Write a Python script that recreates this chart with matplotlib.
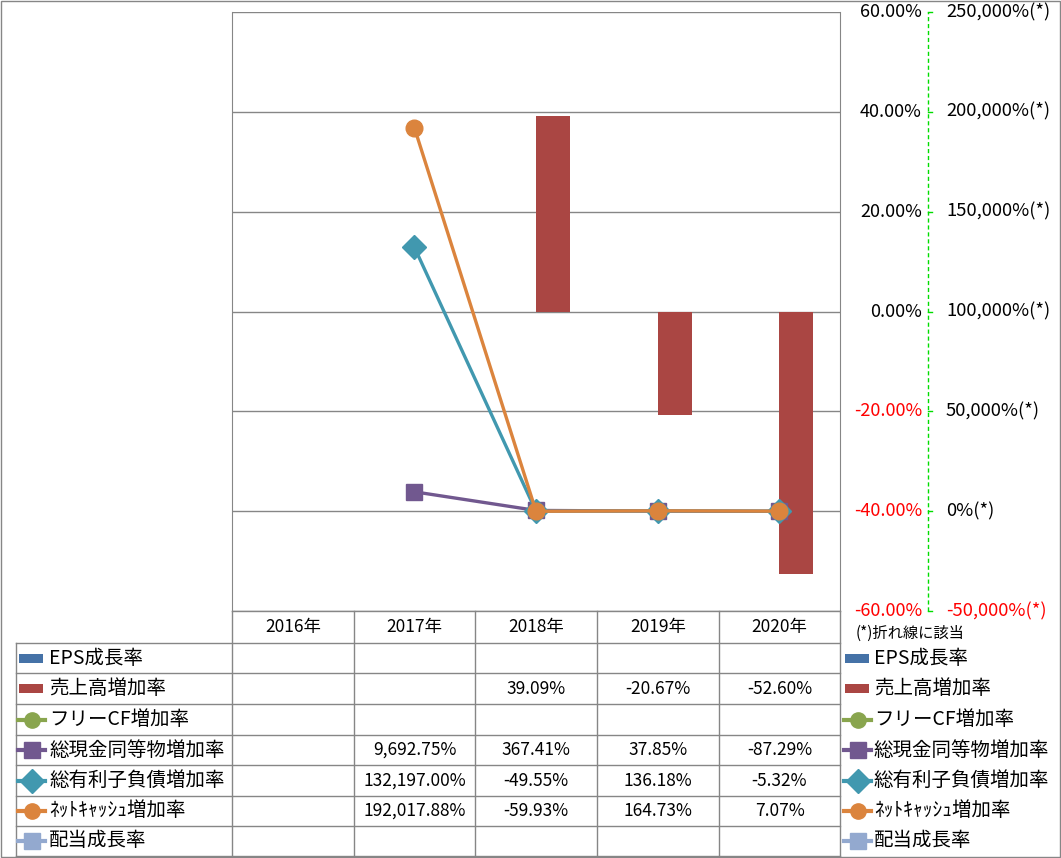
import numpy as np
import matplotlib
matplotlib.use("Agg")
import matplotlib.pyplot as plt
from matplotlib.lines import Line2D
from matplotlib.patches import Rectangle
import matplotlib.transforms as mtrans

plt.rcParams['font.family'] = ['Noto Sans CJK JP', 'DejaVu Sans']

nan = np.nan
years = ['2016年', '2017年', '2018年', '2019年', '2020年']
eps_growth = [nan, nan, nan, nan, nan]
sales_growth = [nan, nan, 39.09, -20.67, -52.60]
fcf_growth = [nan, nan, nan, nan, nan]
cash_growth = [nan, 9692.75, 367.41, 37.85, -87.29]
debt_growth = [nan, 132197.00, -49.55, 136.18, -5.32]
netcash_growth = [nan, 192017.88, -59.93, 164.73, 7.07]
div_growth = [nan, nan, nan, nan, nan]

series_names = ['EPS成長率', '売上高増加率', 'フリーCF増加率', '総現金同等物増加率',
                '総有利子負債増加率', 'ﾈｯﾄｷｬｯｼｭ増加率', '配当成長率']
series_values = [eps_growth, sales_growth, fcf_growth, cash_growth,
                 debt_growth, netcash_growth, div_growth]
series_kind = ['bar', 'bar', 'line', 'line', 'line', 'line', 'line']
series_marker = [None, None, 'o', 's', 'D', 'o', 's']
colors = ['#4572A7', '#AA4643', '#89A54E', '#71588F', '#4198AF', '#DB843D', '#93A9CF']

left_ticks = [60, 40, 20, 0, -20, -40, -60]
right_ticks = [250000, 200000, 150000, 100000, 50000, 0, -50000]

W, H = 1061, 858
fig = plt.figure(figsize=(W / 100, H / 100), dpi=100)

def fx(px):
    return px / W

def fy(py):
    return 1 - py / H

ax_l, ax_r, ax_t, ax_b = 232, 840, 12, 611
ax = fig.add_axes([fx(ax_l), fy(ax_b), (ax_r - ax_l) / W, (ax_b - ax_t) / H])
ax2 = ax.twinx()
ax.set_zorder(1)
ax2.set_zorder(2)
ax.patch.set_alpha(0)
ax2.patch.set_alpha(0)

x = np.arange(len(years))
ax.set_xlim(-0.5, len(years) - 0.5)
ax.set_ylim(-60, 60)
ax2.set_ylim(-50000, 250000)

# gridlines
for t in left_ticks:
    ax.axhline(t, color='#868686', lw=1, zorder=0)

# bars
bw = 0.28
ax.bar(x - bw / 2, eps_growth, width=bw, color=colors[0], zorder=2)
ax.bar(x + bw / 2, sales_growth, width=bw, color=colors[1], zorder=2)

# lines
lw = 2.4
ax2.plot(x, fcf_growth, color=colors[2], lw=lw, marker='o', ms=11)
ax2.plot(x, cash_growth, color=colors[3], lw=lw, marker='s', ms=11, zorder=3)
ax2.plot(x, debt_growth, color=colors[4], lw=lw, marker='D', ms=12, zorder=4)
ax2.plot(x, netcash_growth, color=colors[5], lw=lw, marker='o', ms=12, zorder=5)
ax2.plot(x, div_growth, color=colors[6], lw=lw, marker='s', ms=11)

for a in (ax, ax2):
    a.set_xticks([])
    a.set_yticks([])
    for s in a.spines.values():
        s.set_visible(False)
ax.spines['left'].set_visible(True)
ax.spines['left'].set_color('#868686')
ax.spines['right'].set_visible(True)
ax.spines['right'].set_color('#868686')

fs = 12.5

# left-axis tick labels (drawn on the right side)
tr1 = mtrans.blended_transform_factory(fig.transFigure, ax.transData)
for t in left_ticks:
    ax.text(fx(922), t, f"{t:.2f}%", transform=tr1, ha='right', va='center',
            fontsize=13, color='red' if t < 0 else 'black', clip_on=False)

# secondary-axis: green dashed line with ticks and labels
tr2 = mtrans.blended_transform_factory(fig.transFigure, ax2.transData)
ax2.add_line(Line2D([fx(928), fx(928)], [right_ticks[-1], right_ticks[0]], transform=tr2,
                    color='#00dd00', lw=1, ls=(0, (3, 2)), clip_on=False))
for t in right_ticks:
    ax2.add_line(Line2D([fx(928), fx(932)], [t, t], transform=tr2, color='#00dd00', lw=1,
                        clip_on=False))
    ax2.text(fx(946), t, f"{t:,}%(*)", transform=tr2, ha='left', va='center',
             fontsize=13.3, color='red' if t < 0 else 'black', clip_on=False)

# overlay in pixel coordinates for table and legends
ov = fig.add_axes([0, 0, 1, 1], zorder=0)
ov.set_xlim(0, W)
ov.set_ylim(H, 0)
ov.axis('off')
ov.patch.set_alpha(0)

gcol = '#868686'
# outer border
ov.add_patch(Rectangle((0.5, 0.5), W - 1.5, H - 1.5, fill=False, ec=gcol, lw=1))

col_x = [232, 354, 475, 597, 719, 840]
row_y = [611, 643, 673, 704, 735, 765, 796, 826, 856]
ov.plot([232, 840], [611, 611], color=gcol, lw=1)
for cx in col_x:
    ov.plot([cx, cx], [611, 856], color=gcol, lw=1)
for ry in row_y[1:]:
    ov.plot([16, 840], [ry, ry], color=gcol, lw=1)
ov.plot([16, 16], [643, 856], color=gcol, lw=1)

# header labels
for i, yl in enumerate(years):
    ov.text((col_x[i] + col_x[i + 1]) / 2, 627, yl, ha='center', va='center', fontsize=fs)

ov.text(856, 633, '(*)折れ線に該当', ha='left', va='center', fontsize=11)

def draw_key(x0, yc, i):
    if series_kind[i] == 'bar':
        ov.add_patch(Rectangle((x0 + 1, yc - 4.5), 24, 9, color=colors[i], lw=0))
    else:
        ov.plot([x0, x0 + 27], [yc, yc], color=colors[i], lw=3)
        ov.plot([x0 + 13.5], [yc], color=colors[i], marker=series_marker[i],
                ms=11 if series_marker[i] != 'D' else 12, lw=0)

for r, name in enumerate(series_names):
    yc = (row_y[r + 1] + row_y[r + 2]) / 2
    draw_key(18, yc, r)
    ov.text(49, yc, name, ha='left', va='center', fontsize=14)
    draw_key(844, yc, r)
    ov.text(874, yc, name, ha='left', va='center', fontsize=14)
    vals = series_values[r]
    for c, v in enumerate(vals):
        if not np.isnan(v):
            ov.text((col_x[c] + col_x[c + 1]) / 2, yc, f"{v:,.2f}%", ha='center',
                    va='center', fontsize=fs)

fig.savefig('out.png', dpi=100)
